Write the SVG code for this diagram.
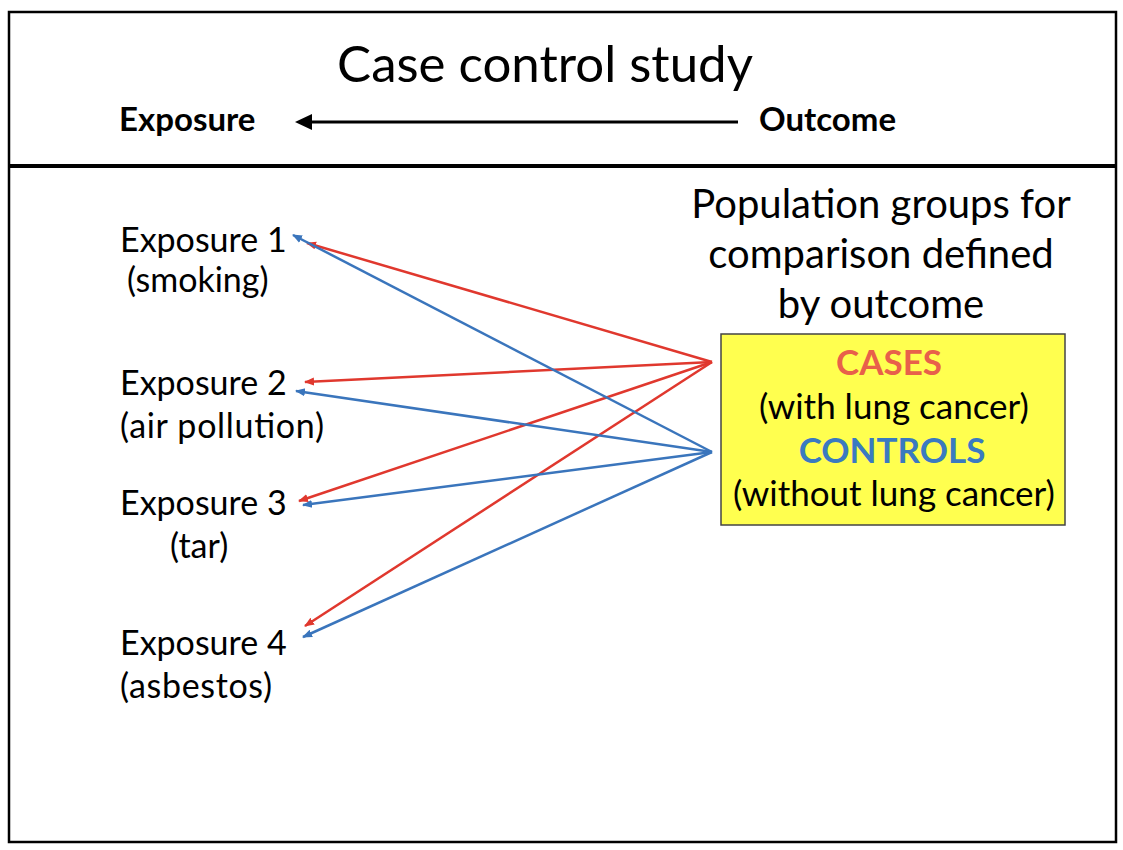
<svg xmlns="http://www.w3.org/2000/svg" width="1123" height="850" viewBox="0 0 1123 850">
<style>
text{font-family:Lato,"Open Sans","Liberation Sans",sans-serif;fill:#000}
.lbl{font-size:34px}
.hd{font-size:33px;font-weight:bold}
.pop{font-size:40px;text-anchor:middle}
.box{font-size:35px;text-anchor:middle}
.red{stroke:#E0382E;stroke-width:2.5;fill:none}
.blue{stroke:#3A75BC;stroke-width:2.5;fill:none}
</style>
<defs>
<marker id="ar" viewBox="0 0 10 10" refX="9" refY="5" markerWidth="4" markerHeight="4" orient="auto" markerUnits="strokeWidth"><path d="M0,1 L10,5 L0,9 z" fill="#E0382E"/></marker>
<marker id="ab" viewBox="0 0 10 10" refX="9" refY="5" markerWidth="4" markerHeight="4" orient="auto" markerUnits="strokeWidth"><path d="M0,1 L10,5 L0,9 z" fill="#3A75BC"/></marker>
</defs>
<rect width="1123" height="850" fill="#fff"/>
<rect x="9" y="12" width="1107" height="830" fill="none" stroke="#000" stroke-width="2.5"/>
<line x1="9" y1="166" x2="1116" y2="166" stroke="#000" stroke-width="4"/>
<g id="header">
<text x="545" y="82" font-size="51" text-anchor="middle">Case control study</text>
<text class="hd" x="119" y="131">Exposure</text>
<text class="hd" x="759" y="131">Outcome</text>
<line x1="738" y1="122" x2="308" y2="122" stroke="#000" stroke-width="3"/>
<path d="M295,122 L312,114 L312,130 z" fill="#000"/>
</g>
<g id="exposure1"><text class="lbl" x="120" y="252">Exposure 1</text><text class="lbl" x="127" y="292">(smoking)</text></g>
<g id="exposure2"><text class="lbl" x="120" y="395">Exposure 2</text><text class="lbl" x="120" y="438" textLength="204" lengthAdjust="spacing">(air pollution)</text></g>
<g id="exposure3"><text class="lbl" x="120" y="515">Exposure 3</text><text class="lbl" x="170" y="558">(tar)</text></g>
<g id="exposure4"><text class="lbl" x="120" y="655">Exposure 4</text><text class="lbl" x="120" y="698" textLength="152" lengthAdjust="spacing">(asbestos)</text></g>
<g id="population">
<text class="pop" x="881" y="218">Population groups for</text>
<text class="pop" x="881" y="268">comparison defined</text>
<text class="pop" x="881" y="318">by outcome</text>
</g>
<g id="groups">
<rect x="721" y="334" width="344" height="191" fill="#FFFF4F" stroke="#444" stroke-width="1.5"/>
<text class="box" x="889" y="375" font-weight="bold" style="fill:#E8604A" font-size="29">CASES</text>
<text class="box" x="894" y="419">(with lung cancer)</text>
<text class="box" x="892" y="463" font-weight="bold" style="fill:#3A7AC0" font-size="29">CONTROLS</text>
<text class="box" x="894" y="506">(without lung cancer)</text>
</g>
<g id="connectors">
<line class="red" x1="712" y1="362" x2="307" y2="243" marker-end="url(#ar)"/>
<line class="red" x1="712" y1="362" x2="305" y2="382" marker-end="url(#ar)"/>
<line class="red" x1="712" y1="362" x2="299" y2="501" marker-end="url(#ar)"/>
<line class="red" x1="712" y1="362" x2="305" y2="626" marker-end="url(#ar)"/>
<line class="blue" x1="712" y1="452" x2="293" y2="235" marker-end="url(#ab)"/>
<line class="blue" x1="712" y1="452" x2="296" y2="391" marker-end="url(#ab)"/>
<line class="blue" x1="712" y1="452" x2="303" y2="505" marker-end="url(#ab)"/>
<line class="blue" x1="712" y1="452" x2="303" y2="637" marker-end="url(#ab)"/>
</g>
</svg>
